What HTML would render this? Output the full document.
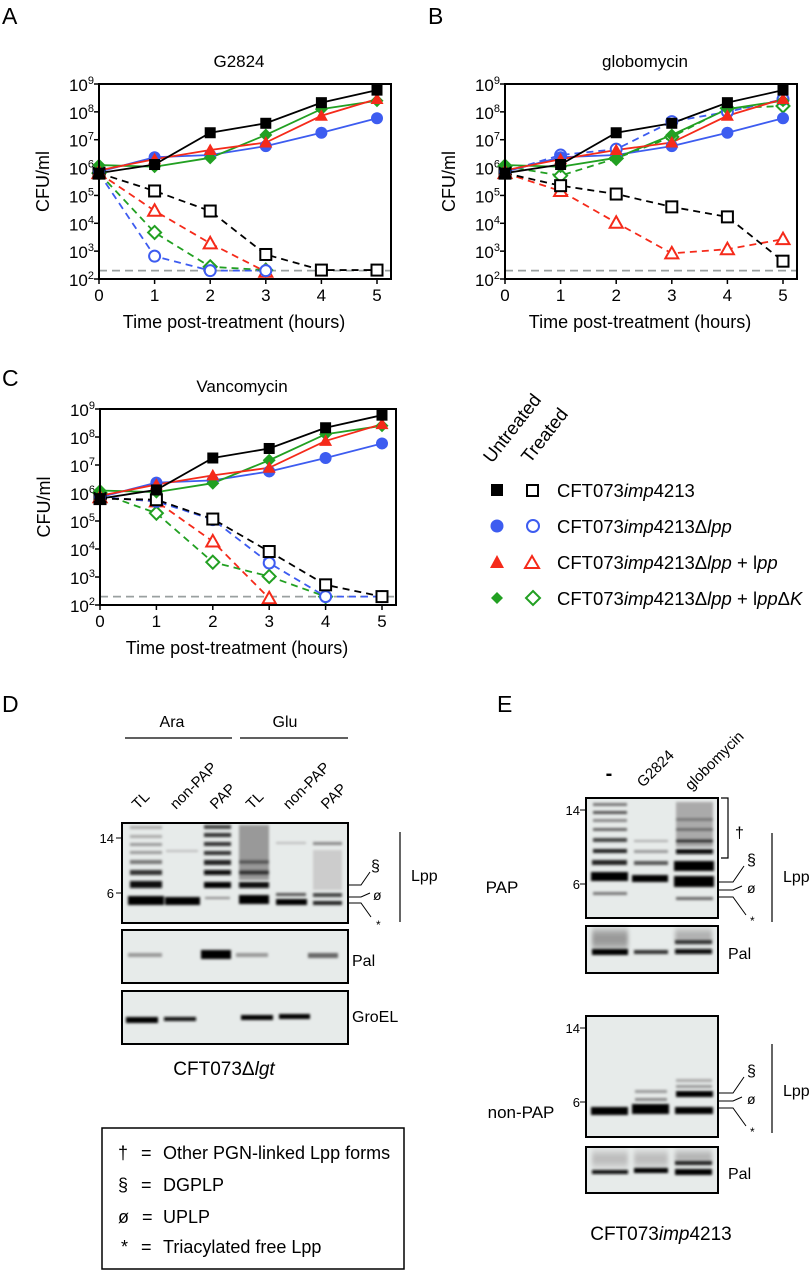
<!DOCTYPE html>
<html><head><meta charset="utf-8"><style>
html,body{margin:0;padding:0;background:#fff}
svg{display:block;font-family:"Liberation Sans",sans-serif}
</style></head><body>
<svg id="fig" width="812" height="1271" viewBox="0 0 812 1271" xmlns="http://www.w3.org/2000/svg">
<defs>
<filter id="bl" x="-20%" y="-200%" width="140%" height="500%"><feGaussianBlur stdDeviation="1.2 1.3"/></filter>
<filter id="bl2" x="-20%" y="-50%" width="140%" height="200%"><feGaussianBlur stdDeviation="2 4"/></filter>
</defs>
<g id="charts"></g>

<!-- Legend -->
<g font-size="18.5">
<text transform="translate(492,464) rotate(-52)">Untreated</text>
<text transform="translate(530,464) rotate(-52)">Treated</text>
<g>
<rect x="491" y="484" width="12" height="12" fill="#000"/><rect x="527" y="485" width="11" height="11" fill="#fff" stroke="#000" stroke-width="2"/>
<text x="557" y="497">CFT073<tspan font-style="italic">imp</tspan>4213</text></g>
<g>
<circle cx="497" cy="526" r="6.5" fill="#3d5cf0"/><circle cx="533" cy="526" r="6" fill="#fff" stroke="#3d5cf0" stroke-width="2"/>
<text x="557" y="533">CFT073<tspan font-style="italic">imp</tspan>4213Δ<tspan font-style="italic">lpp</tspan></text></g>
<g>
<polygon points="497,555 504,568 490,568" fill="#f52a1a"/><polygon points="532,556 539,568 525,568" fill="#fff" stroke="#f52a1a" stroke-width="2"/>
<text x="557" y="569">CFT073<tspan font-style="italic">imp</tspan>4213Δ<tspan font-style="italic">lpp</tspan> + l<tspan font-style="italic">pp</tspan></text></g>
<g>
<polygon points="497,592 503,598 497,604 491,598" fill="#22a022"/><polygon points="533,591 540,598 533,605 526,598" fill="#fff" stroke="#22a022" stroke-width="2"/>
<text x="557" y="605">CFT073<tspan font-style="italic">imp</tspan>4213Δ<tspan font-style="italic">lpp</tspan> + l<tspan font-style="italic">pp</tspan>Δ<tspan font-style="italic">K</tspan></text></g>
</g>

<!-- Panel D -->
<g>
<text x="2" y="712" font-size="23">D</text>
<text x="172" y="727" font-size="16" text-anchor="middle">Ara</text>
<text x="285" y="727" font-size="16" text-anchor="middle">Glu</text>
<line x1="125" y1="738" x2="232" y2="738" stroke="#000" stroke-width="1.2"/>
<line x1="240" y1="738" x2="348" y2="738" stroke="#000" stroke-width="1.2"/>
<g font-size="15">
<text transform="translate(138,810) rotate(-45)">TL</text>
<text transform="translate(176,810) rotate(-45)">non-PAP</text>
<text transform="translate(216,810) rotate(-45)">PAP</text>
<text transform="translate(252,810) rotate(-45)">TL</text>
<text transform="translate(289,810) rotate(-45)">non-PAP</text>
<text transform="translate(327,810) rotate(-45)">PAP</text>
</g>
<g>
<rect x="122" y="823" width="226" height="100" fill="#e7ebea"/>
<g filter="url(#bl)">
<rect x="130" y="826" width="32" height="3" fill="#aaa"/><rect x="130" y="835" width="32" height="3" fill="#aaa"/><rect x="130" y="843" width="32" height="3" fill="#999"/><rect x="130" y="851" width="32" height="3" fill="#999"/>
<rect x="130" y="860" width="32" height="4" fill="#777"/><rect x="130" y="870" width="32" height="5" fill="#333"/><rect x="130" y="881" width="32" height="7" fill="#111"/><rect x="128" y="896" width="36" height="9" fill="#000"/>
<rect x="166" y="850" width="32" height="2" fill="#bbb"/><rect x="165" y="897" width="35" height="8" fill="#000"/>
<rect x="204" y="825" width="27" height="4" fill="#444"/><rect x="204" y="833" width="27" height="4" fill="#333"/><rect x="204" y="842" width="27" height="4" fill="#333"/><rect x="204" y="851" width="27" height="4" fill="#333"/><rect x="204" y="860" width="27" height="5" fill="#222"/><rect x="204" y="870" width="27" height="5" fill="#111"/><rect x="204" y="882" width="27" height="6" fill="#000"/><rect x="205" y="897" width="25" height="2" fill="#888"/>
<rect x="239" y="825" width="30" height="55" fill="#999"/><rect x="239" y="860" width="30" height="4" fill="#555"/><rect x="239" y="870" width="30" height="5" fill="#333"/><rect x="239" y="882" width="30" height="6" fill="#111"/><rect x="239" y="895" width="30" height="9" fill="#000"/>
<rect x="276" y="842" width="30" height="2" fill="#bbb"/><rect x="276" y="893" width="30" height="3" fill="#555"/><rect x="276" y="899" width="31" height="6" fill="#000"/>
<rect x="313" y="842" width="29" height="3" fill="#888"/><rect x="313" y="850" width="29" height="40" fill="#ccc"/><rect x="313" y="893" width="29" height="4" fill="#444"/><rect x="313" y="901" width="29" height="4" fill="#222"/>
</g>
<rect x="122" y="823" width="226" height="100" fill="none" stroke="#000" stroke-width="2"/>
</g>
<text x="114" y="843" font-size="13" text-anchor="end">14</text><line x1="116" y1="838" x2="122" y2="838" stroke="#000"/>
<text x="114" y="898" font-size="13" text-anchor="end">6</text><line x1="116" y1="893" x2="122" y2="893" stroke="#000"/>
<polyline points="348,885 361,885 370,872" fill="none" stroke="#000"/>
<polyline points="348,897 361,897 370,893" fill="none" stroke="#000"/>
<polyline points="348,903 361,903 371,917" fill="none" stroke="#000"/>
<text x="371" y="871" font-size="16">§</text>
<text x="373" y="900" font-size="14">ø</text>
<text x="376" y="929" font-size="12">*</text>
<line x1="400" y1="832" x2="400" y2="922" stroke="#000" stroke-width="1.2"/>
<text x="411" y="881" font-size="16">Lpp</text>
<g>
<rect x="122" y="930" width="226" height="53" fill="#e7ebea"/>
<g filter="url(#bl)"><rect x="128" y="953" width="34" height="4" fill="#999"/><rect x="201" y="950" width="30" height="9" fill="#000"/><rect x="236" y="953" width="32" height="4" fill="#999"/><rect x="308" y="953" width="30" height="5" fill="#666"/></g>
<rect x="122" y="930" width="226" height="53" fill="none" stroke="#000" stroke-width="2"/>
</g>
<text x="352" y="966" font-size="16">Pal</text>
<g>
<rect x="122" y="991" width="226" height="53" fill="#e7ebea"/>
<g filter="url(#bl)"><rect x="126" y="1017" width="32" height="6" fill="#000"/><rect x="164" y="1017" width="32" height="4" fill="#111"/><rect x="241" y="1015" width="32" height="5" fill="#000"/><rect x="279" y="1014" width="31" height="5" fill="#000"/></g>
<rect x="122" y="991" width="226" height="53" fill="none" stroke="#000" stroke-width="2"/>
</g>
<text x="352" y="1022" font-size="16">GroEL</text>
<text x="224" y="1075" font-size="19" text-anchor="middle">CFT073Δ<tspan font-style="italic">lgt</tspan></text>
</g>

<!-- Key box -->
<g font-size="18">
<rect x="102" y="1128" width="302" height="141" fill="#fff" stroke="#000" stroke-width="1.5"/>
<text x="118" y="1159">†</text><text x="141" y="1159">=</text><text x="163" y="1159">Other PGN-linked Lpp forms</text>
<text x="118" y="1191">§</text><text x="141" y="1191">=</text><text x="163" y="1191">DGPLP</text>
<text x="118" y="1223">ø</text><text x="142" y="1223">=</text><text x="163" y="1223">UPLP</text>
<text x="121" y="1253">*</text><text x="141" y="1253">=</text><text x="163" y="1253">Triacylated free Lpp</text>
</g>

<!-- Panel E -->
<g>
<text x="497" y="712" font-size="23">E</text>
<text x="609" y="780" font-size="20" text-anchor="middle" font-weight="bold">-</text>
<text transform="translate(643,788) rotate(-45)" font-size="15">G2824</text>
<text transform="translate(691,791) rotate(-45)" font-size="15">globomycin</text>
<text x="502" y="893" font-size="17" text-anchor="middle">PAP</text>
<g>
<rect x="586" y="798" width="132" height="120" fill="#e7ebea"/>
<g filter="url(#bl)">
<rect x="593" y="803" width="34" height="3" fill="#777"/><rect x="593" y="811" width="34" height="3" fill="#555"/><rect x="593" y="819" width="34" height="3" fill="#888"/><rect x="593" y="828" width="34" height="3" fill="#666"/><rect x="593" y="838" width="34" height="4" fill="#444"/><rect x="593" y="849" width="34" height="4" fill="#222"/><rect x="592" y="860" width="35" height="5" fill="#222"/><rect x="591" y="872" width="37" height="9" fill="#000"/><rect x="593" y="892" width="34" height="3" fill="#777"/>
<rect x="634" y="840" width="34" height="2" fill="#aaa"/><rect x="634" y="850" width="34" height="3" fill="#999"/><rect x="634" y="861" width="34" height="4" fill="#555"/><rect x="632" y="875" width="36" height="7" fill="#000"/>
<rect x="676" y="802" width="37" height="45" fill="#aaa"/><rect x="676" y="818" width="37" height="3" fill="#777"/><rect x="676" y="828" width="37" height="3" fill="#666"/><rect x="676" y="839" width="37" height="4" fill="#333"/><rect x="676" y="849" width="37" height="5" fill="#111"/><rect x="674" y="861" width="40" height="10" fill="#000"/><rect x="674" y="876" width="40" height="11" fill="#000"/><rect x="676" y="897" width="37" height="3" fill="#666"/>
</g>
<rect x="586" y="798" width="132" height="120" fill="none" stroke="#000" stroke-width="2"/>
</g>
<text x="580" y="815" font-size="13" text-anchor="end">14</text><line x1="580" y1="810" x2="586" y2="810" stroke="#000"/>
<text x="580" y="889" font-size="13" text-anchor="end">6</text><line x1="580" y1="884" x2="586" y2="884" stroke="#000"/>
<polyline points="721,798 728,798 728,858 721,858" fill="none" stroke="#000" stroke-width="1.2"/>
<text x="735" y="838" font-size="16">†</text>
<polyline points="718,882 733,882 744,866" fill="none" stroke="#000"/>
<polyline points="718,890 733,890 742,886" fill="none" stroke="#000"/>
<polyline points="718,897 733,897 746,915" fill="none" stroke="#000"/>
<text x="747" y="865" font-size="16">§</text><text x="747" y="893" font-size="14">ø</text><text x="750" y="925" font-size="12">*</text>
<line x1="772" y1="833" x2="772" y2="922" stroke="#000" stroke-width="1.2"/>
<text x="783" y="882" font-size="16">Lpp</text>
<g>
<rect x="586" y="926" width="132" height="47" fill="#e7ebea"/>
<g filter="url(#bl2)"><rect x="592" y="930" width="36" height="18" fill="#999"/><rect x="675" y="930" width="37" height="12" fill="#aaa"/></g>
<g filter="url(#bl)"><rect x="592" y="949" width="36" height="6" fill="#000"/><rect x="634" y="950" width="34" height="4" fill="#333"/><rect x="675" y="940" width="37" height="4" fill="#333"/><rect x="675" y="949" width="37" height="5" fill="#111"/></g>
<rect x="586" y="926" width="132" height="47" fill="none" stroke="#000" stroke-width="2"/>
</g>
<text x="728" y="959" font-size="16">Pal</text>
<text x="521" y="1118" font-size="17" text-anchor="middle">non-PAP</text>
<g>
<rect x="586" y="1016" width="132" height="121" fill="#e7ebea"/>
<g filter="url(#bl)">
<rect x="591" y="1107" width="37" height="8" fill="#000"/>
<rect x="635" y="1090" width="32" height="3" fill="#999"/><rect x="635" y="1098" width="32" height="3" fill="#888"/><rect x="632" y="1104" width="37" height="10" fill="#000"/>
<rect x="676" y="1079" width="36" height="3" fill="#aaa"/><rect x="676" y="1085" width="36" height="3" fill="#999"/><rect x="676" y="1091" width="37" height="6" fill="#000"/><rect x="675" y="1107" width="38" height="7" fill="#000"/>
</g>
<rect x="586" y="1016" width="132" height="121" fill="none" stroke="#000" stroke-width="2"/>
</g>
<text x="580" y="1033" font-size="13" text-anchor="end">14</text><line x1="580" y1="1028" x2="586" y2="1028" stroke="#000"/>
<text x="580" y="1107" font-size="13" text-anchor="end">6</text><line x1="580" y1="1102" x2="586" y2="1102" stroke="#000"/>
<polyline points="718,1093 733,1093 744,1077" fill="none" stroke="#000"/>
<polyline points="718,1101 733,1101 742,1097" fill="none" stroke="#000"/>
<polyline points="718,1108 733,1108 746,1126" fill="none" stroke="#000"/>
<text x="747" y="1076" font-size="16">§</text><text x="747" y="1104" font-size="14">ø</text><text x="750" y="1136" font-size="12">*</text>
<line x1="772" y1="1044" x2="772" y2="1133" stroke="#000" stroke-width="1.2"/>
<text x="783" y="1096" font-size="16">Lpp</text>
<g>
<rect x="586" y="1147" width="132" height="46" fill="#e7ebea"/>
<g filter="url(#bl2)"><rect x="592" y="1152" width="36" height="14" fill="#bbb"/><rect x="634" y="1152" width="34" height="14" fill="#bbb"/><rect x="675" y="1152" width="37" height="10" fill="#aaa"/></g>
<g filter="url(#bl)"><rect x="592" y="1170" width="36" height="4" fill="#111"/><rect x="634" y="1168" width="34" height="5" fill="#000"/><rect x="675" y="1161" width="37" height="4" fill="#222"/><rect x="675" y="1169" width="37" height="6" fill="#000"/></g>
<rect x="586" y="1147" width="132" height="46" fill="none" stroke="#000" stroke-width="2"/>
</g>
<text x="728" y="1179" font-size="16">Pal</text>
<text x="661" y="1240" font-size="19" text-anchor="middle">CFT073<tspan font-style="italic">imp</tspan>4213</text>
</g>
</svg>
<script>
// x categories (hours)
const hours = [0,1,2,3,4,5];
const yTickExps = [2,3,4,5,6,7,8,9];
const xTickLabels = ["0","1","2","3","4","5"];
// log10 CFU/ml values
const A_black_u = [5.8,6.11,7.25,7.59,8.33,8.78];
const A_blue_u  = [5.85,6.37,6.45,6.77,7.25,7.77];
const A_red_u   = [5.9,6.3,6.63,6.9,7.86,8.46];
const A_green_u = [6.09,6.03,6.35,7.17,8.1,8.4];
const A_black_t = [5.8,5.16,4.44,2.88,2.32,2.32];
const A_red_t   = [5.8,4.45,3.28,2.26];
const A_green_t = [5.8,3.67,2.44,2.32];
const A_blue_t  = [5.8,2.82,2.3,2.3];
const B_black_u = [5.8,6.11,7.25,7.59,8.33,8.78];
const B_blue_u  = [5.85,6.37,6.45,6.77,7.25,7.77];
const B_red_u   = [5.9,6.3,6.63,6.9,7.86,8.46];
const B_green_u = [6.09,6.03,6.35,7.17,8.1,8.4];
const B_black_t = [5.8,5.35,5.05,4.59,4.23,2.64];
const B_red_t   = [5.8,5.16,4.02,2.92,3.07,3.43];
const B_blue_t  = [5.85,6.45,6.66,7.65,8.0,8.45];
const B_green_t = [6.05,5.71,6.33,7.1,8.13,8.21];
const C_black_u = [5.8,6.11,7.25,7.59,8.33,8.78];
const C_blue_u  = [5.85,6.37,6.45,6.77,7.25,7.77];
const C_red_u   = [5.9,6.3,6.63,6.9,7.86,8.46];
const C_green_u = [6.09,6.03,6.35,7.17,8.1,8.4];
const C_black_t = [5.8,5.76,5.07,3.91,2.72,2.3];
const C_blue_t  = [5.85,5.7,5.05,3.5,2.3,2.3];
const C_red_t   = [5.85,5.7,4.27,2.24];
const C_green_t = [6.0,5.28,3.53,3.02,2.3];
const LOD = 2.3;

const NS = "http://www.w3.org/2000/svg";
const COL = {black:"#000",blue:"#3d5cf0",red:"#f52a1a",green:"#22a022"};
function mk(tag, attrs, parent){const e=document.createElementNS(NS,tag);for(const k in attrs)e.setAttribute(k,attrs[k]);parent.appendChild(e);return e;}

function marker(g, shape, cx, cy, color, open){
  const f = open ? "#fff" : color, s = open ? color : "none", sw = open ? 2 : 0;
  let m;
  if(shape==="sq") m = mk("rect",{x:cx-5.5,y:cy-5.5,width:11,height:11,fill:f,stroke:s,"stroke-width":sw},g);
  else if(shape==="ci") m = mk("circle",{cx:cx,cy:cy,r:open?5.5:6,fill:f,stroke:s,"stroke-width":sw},g);
  else if(shape==="tr") m = mk("polygon",{points:`${cx},${cy-6.5} ${cx+6.5},${cy+5} ${cx-6.5},${cy+5}`,fill:f,stroke:s,"stroke-width":sw},g);
  else m = mk("polygon",{points:`${cx},${cy-6.5} ${cx+6.5},${cy} ${cx},${cy+6.5} ${cx-6.5},${cy}`,fill:f,stroke:s,"stroke-width":sw},g);
  
  
}

function chart(cfg, series){
  const root = document.getElementById("charts");
  const g = mk("g",{},root);
  
  
  const xS = v => cfg.x0 + (cfg.x5-cfg.x0)*v/5;
  const yS = v => cfg.yb - (cfg.yb-cfg.yt)*(v-2)/7;
  const lab = mk("text",{x:cfg.lx,y:cfg.ly,"font-size":23},g); lab.textContent=cfg.letter;
  
  
  const t = mk("text",{x:(cfg.x0+cfg.xr)/2-6,y:cfg.yt-17,"font-size":17,"text-anchor":"middle"},g); t.textContent=cfg.title;
  
  
  const yl = mk("text",{transform:`translate(${cfg.x0-50},${(cfg.yt+cfg.yb)/2}) rotate(-90)`,"font-size":18,"text-anchor":"middle"},g); yl.textContent="CFU/ml";
  
  
  const xl = mk("text",{x:(cfg.x0+cfg.x5)/2-4,y:cfg.yb+49,"font-size":18,"text-anchor":"middle"},g); xl.textContent="Time post-treatment (hours)";
  
  
  yTickExps.forEach(e=>{
    const y=yS(e);
    mk("line",{x1:cfg.x0-5,y1:y,x2:cfg.x0,y2:y,stroke:"#000","stroke-width":1.5},g);
    const tx = mk("text",{x:cfg.x0-5,y:y+7,"font-size":17,"text-anchor":"end"},g);
    
    
    const a=mk("tspan",{},tx); a.textContent="10";
    const b=mk("tspan",{dy:-7,"font-size":11},tx); b.textContent=String(e);
  });
  hours.forEach((h,i)=>{
    const x=xS(h);
    mk("line",{x1:x,y1:cfg.yb,x2:x,y2:cfg.yb+5,stroke:"#000","stroke-width":1.5},g);
    const tx=mk("text",{x:x,y:cfg.yb+22,"font-size":17,"text-anchor":"middle"},g); tx.textContent=xTickLabels[i];
    
    
  });
  const lod = mk("line",{x1:cfg.x0,y1:yS(LOD),x2:cfg.xr,y2:yS(LOD),stroke:"#9aa0a0","stroke-width":1.8,"stroke-dasharray":"8,5"},g);
  
  
  series.forEach(s=>{
    const pts = s.d.map((v,i)=>xS(hours[i])+","+yS(v)).join(" ");
    const pl = mk("polyline",{points:pts,fill:"none",stroke:COL[s.c],"stroke-width":1.8,"stroke-dasharray":s.open?"7,5":"none"},g);
    
    
  });
  series.forEach(s=>{ s.d.forEach((v,i)=>marker(g,s.m,xS(hours[i]),yS(v),COL[s.c],s.open)); });
  const box = mk("rect",{x:cfg.x0,y:cfg.yt,width:cfg.xr-cfg.x0,height:cfg.yb-cfg.yt,fill:"none",stroke:"#000","stroke-width":2},g);
  
  
}

function sset(p){return [
  {d:p.gt,c:"green",m:"di",open:true},{d:p.rt,c:"red",m:"tr",open:true},{d:p.bt,c:"blue",m:"ci",open:true},{d:p.kt,c:"black",m:"sq",open:true},
  {d:p.bu,c:"blue",m:"ci",open:false},{d:p.gu,c:"green",m:"di",open:false},{d:p.ru,c:"red",m:"tr",open:false},{d:p.ku,c:"black",m:"sq",open:false}];}

chart({name:"chart-a-g2824",letter:"A",lx:2,ly:24,title:"G2824",x0:99,x5:377,xr:391,yt:84,yb:279},
  sset({ku:A_black_u,bu:A_blue_u,ru:A_red_u,gu:A_green_u,kt:A_black_t,bt:A_blue_t,rt:A_red_t,gt:A_green_t}));
chart({name:"chart-b-globomycin",letter:"B",lx:428,ly:24,title:"globomycin",x0:505,x5:783,xr:797,yt:84,yb:279},
  sset({ku:B_black_u,bu:B_blue_u,ru:B_red_u,gu:B_green_u,kt:B_black_t,bt:B_blue_t,rt:B_red_t,gt:B_green_t}));
chart({name:"chart-c-vancomycin",letter:"C",lx:2,ly:386,title:"Vancomycin",x0:100,x5:382,xr:396,yt:409,yb:605},
  sset({ku:C_black_u,bu:C_blue_u,ru:C_red_u,gu:C_green_u,kt:C_black_t,bt:C_blue_t,rt:C_red_t,gt:C_green_t}));
</script>
</body></html>
